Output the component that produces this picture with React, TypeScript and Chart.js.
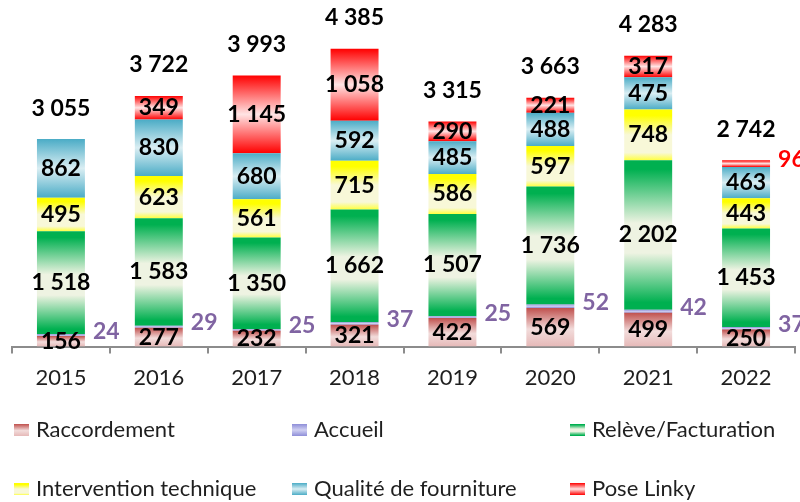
import React, { useEffect, useRef } from 'react';
import { Chart, registerables } from 'chart.js';

Chart.register(...registerables);

// ---- data ----
const years = ['2015', '2016', '2017', '2018', '2019', '2020', '2021', '2022'];
const raccordement = [156, 277, 232, 321, 422, 569, 499, 250];
const accueil = [24, 29, 25, 37, 25, 52, 42, 37];
const releve = [1518, 1583, 1350, 1662, 1507, 1736, 2202, 1453];
const intervention = [495, 623, 561, 715, 586, 597, 748, 443];
const qualite = [862, 830, 680, 592, 485, 488, 475, 463];
const linky = [0, 349, 1145, 1058, 290, 221, 317, 96];
const totals = [3055, 3722, 3993, 4385, 3315, 3663, 4283, 2742];
const seriesNames = [
  'Raccordement',
  'Accueil',
  'Relève/Facturation',
  'Intervention technique',
  'Qualité de fourniture',
  'Pose Linky',
];
const seriesValues = [raccordement, accueil, releve, intervention, qualite, linky];

// ---- styles ----
const GRADS: [string, number][][] = [
  [['#C0504D', 0], ['#F2DCDB', 0.55], ['#E6B9B8', 1]],
  [['#8E8ED8', 0], ['#D0D0F2', 0.5], ['#8E8ED8', 1]],
  [['#00B050', 0], ['#00B050', 0.06], ['#EEF3E2', 0.42], ['#EEF3E2', 0.62], ['#00B050', 0.95], ['#00B050', 1]],
  [['#FFFF00', 0], ['#FFFF00', 0.12], ['#F8F8D8', 0.5], ['#F8F8D8', 0.85], ['#FFFF40', 1]],
  [['#4BACC6', 0], ['#DAEEF3', 0.5], ['#4BACC6', 1]],
  [['#FF0000', 0], ['#FFE4E4', 0.5], ['#FF0000', 1]],
];
const OUTSIDE_COLORS = ['#000', '#8064A2', '#000', '#000', '#000', '#FF0000'];
const FONT = 'Lato';

function fmt(n: number): string {
  if (n >= 1000) return `${Math.floor(n / 1000)} ${String(n % 1000).padStart(3, '0')}`;
  return String(n);
}

function gradient(c: CanvasRenderingContext2D, si: number, top: number, bottom: number) {
  const g = c.createLinearGradient(0, top, 0, bottom);
  GRADS[si].forEach(([col, s]) => g.addColorStop(s, col));
  return g;
}

function makeBg(si: number) {
  return (ctx: any) => {
    const fallback = GRADS[si][0][0];
    if (ctx.type !== 'data') return fallback;
    const chart = ctx.chart;
    const y = chart.scales && chart.scales.y;
    if (!y) return fallback;
    let cum = 0;
    for (let k = 0; k < si; k++) cum += seriesValues[k][ctx.dataIndex];
    const v = seriesValues[si][ctx.dataIndex];
    const top = y.getPixelForValue(cum + v);
    const base = y.getPixelForValue(cum);
    if (!isFinite(top) || !isFinite(base) || Math.abs(top - base) < 0.01) return fallback;
    return gradient(chart.ctx, si, top, base);
  };
}

const labelsPlugin = {
  id: 'customLabels',
  afterDatasetsDraw(chart: any) {
    const c: CanvasRenderingContext2D = chart.ctx;
    const y = chart.scales.y;
    c.save();
    c.textBaseline = 'middle';
    c.font = `bold 23px ${FONT}`;
    seriesValues.forEach((vals, si) => {
      const meta = chart.getDatasetMeta(si);
      meta.data.forEach((bar: any, i: number) => {
        const v = vals[i];
        if (!v) return;
        const p = bar.getProps(['x', 'y', 'base', 'width'], true);
        const cy = (p.y + p.base) / 2;
        const outside = si === 1 || (si === 5 && v < 150);
        if (outside) {
          c.fillStyle = OUTSIDE_COLORS[si];
          c.textAlign = 'left';
          c.fillText(fmt(v), p.x + p.width / 2 + 8, Math.min(cy - 4, 332));
        } else {
          c.fillStyle = '#000';
          c.textAlign = 'center';
          c.fillText(fmt(v), p.x, cy);
        }
      });
    });
    // totals
    c.fillStyle = '#000';
    c.textAlign = 'center';
    years.forEach((_, i) => {
      let sum = 0;
      seriesValues.forEach((vals) => (sum += vals[i]));
      const top = y.getPixelForValue(sum);
      const x = chart.getDatasetMeta(0).data[i].x;
      c.fillText(fmt(totals[i]), x, top - 31);
    });
    c.restore();
  },
};

const legendPlugin = {
  id: 'customLegend',
  afterDraw(chart: any) {
    const c: CanvasRenderingContext2D = chart.ctx;
    const cols = [14, 292, 570];
    const rows = [430, 489];
    c.save();
    c.font = `22px ${FONT}`;
    c.textBaseline = 'middle';
    c.textAlign = 'left';
    seriesNames.forEach((name, si) => {
      const x = cols[si % 3];
      const yy = rows[Math.floor(si / 3)];
      c.fillStyle = gradient(c, si, yy - 6, yy + 6);
      c.fillRect(x, yy - 6, 15, 12);
      c.fillStyle = '#1F1F1F';
      c.fillText(name, x + 22, yy);
    });
    c.restore();
  },
};

export default function App() {
  const ref = useRef<HTMLCanvasElement | null>(null);
  useEffect(() => {
    document.body.style.margin = '0';
    const canvas = ref.current;
    if (!canvas) return;
    const chart = new Chart(canvas, {
      type: 'bar',
      data: {
        labels: years,
        datasets: seriesValues.map((vals, si) => ({
          label: seriesNames[si],
          data: vals,
          backgroundColor: makeBg(si) as any,
          borderWidth: 0,
          categoryPercentage: 1,
          barPercentage: 0.49,
        })),
      },
      options: {
        responsive: false,
        maintainAspectRatio: false,
        animation: false,
        layout: { padding: { left: 12, right: 5, top: 7, bottom: 100 } },
        plugins: { legend: { display: false }, tooltip: { enabled: false } },
        scales: {
          x: {
            stacked: true,
            grid: {
              offset: true,
              drawOnChartArea: false,
              drawTicks: true,
              tickLength: 7,
              color: '#8C8C8C',
              lineWidth: 2,
            },
            border: { display: true, color: '#8C8C8C', width: 2 },
            ticks: { color: '#1F1F1F', font: { family: FONT, size: 22 }, padding: 11 },
          },
          y: { stacked: true, display: false, min: 0, max: 5000 },
        },
      },
      plugins: [labelsPlugin, legendPlugin],
    });
    return () => chart.destroy();
  }, []);
  return (
    <div style={{ width: 800, height: 502 }}>
      <canvas ref={ref} width={800} height={502} style={{ display: 'block' }} />
    </div>
  );
}
